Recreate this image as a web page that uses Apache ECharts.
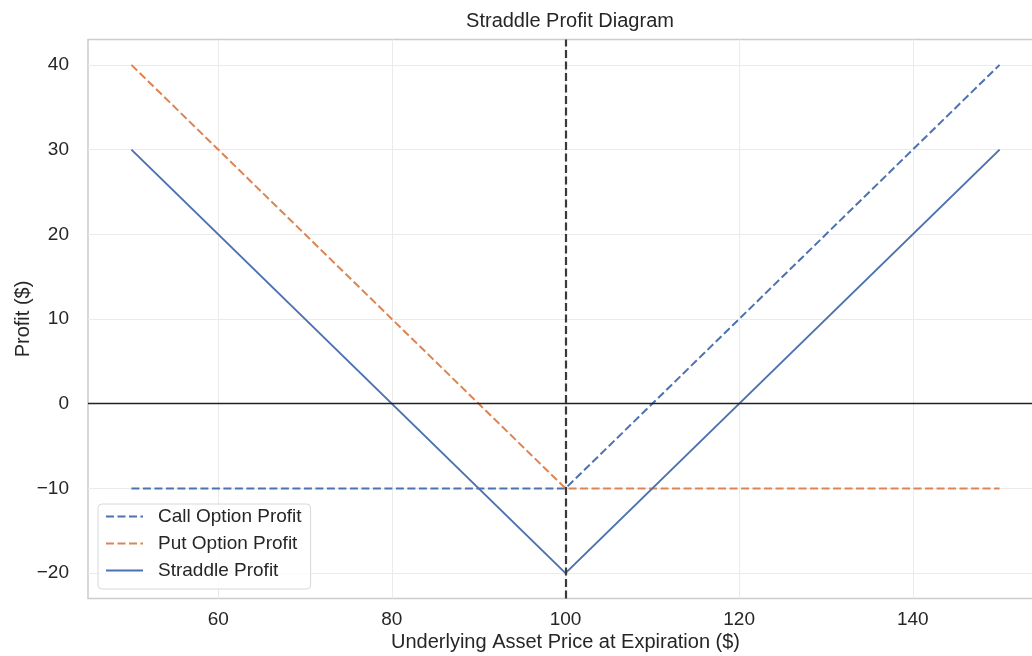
<!DOCTYPE html>
<html>
<head>
<meta charset="utf-8">
<script src="https://cdn.jsdelivr.net/npm/echarts@6/dist/echarts.min.js"></script>
<style>html,body{margin:0;padding:0;background:#fff}#c{width:1032px;height:656px}</style>
</head>
<body>
<div id="c"></div>
<script>
const prices = [50, 100, 150];
const callProfit = [-10, -10, 40];
const putProfit = [40, -10, -10];
const straddleProfit = [30, -20, 30];
const strike = 100;
const xTicks = [60, 80, 100, 120, 140];
const yTicks = [-20, -10, 0, 10, 20, 30, 40];

const FONT = '"Liberation Sans", Arial, sans-serif';
const BLUE = '#4C72B0', ORANGE = '#DD8452', TXT = '#262626';
const pair = arr => prices.map((x, i) => [x, arr[i]]);

const chart = echarts.init(document.getElementById('c'));
chart.setOption({
  animation: false,
  textStyle: {fontFamily: FONT},
  title: {text: 'Straddle Profit Diagram', left: 565, top: 6.5, textAlign: 'center',
    textStyle: {fontFamily: FONT, fontSize: 20, fontWeight: 'normal', color: TXT}},
  grid: {left: 88, width: 955, top: 39.5, bottom: 57.5, show: true, containLabel: false,
    outerBoundsMode: 'none',
    borderColor: '#cccccc', borderWidth: 1.5, backgroundColor: 'transparent'},
  xAxis: {type: 'value', min: 45, max: 155,
    name: 'Underlying Asset Price at Expiration ($)', nameLocation: 'middle', nameGap: 34,
    nameMoveOverlap: false,
    nameTextStyle: {fontFamily: FONT, fontSize: 20, color: TXT},
    axisLine: {show: false}, axisTick: {show: false, customValues: xTicks},
    axisLabel: {fontFamily: FONT, fontSize: 19, color: TXT, margin: 12, customValues: xTicks},
    splitLine: {show: true, lineStyle: {color: '#ebebeb', width: 1}}},
  yAxis: {type: 'value', min: -23, max: 43,
    name: 'Profit ($)', nameLocation: 'middle', nameGap: 55, nameRotate: 90,
    nameMoveOverlap: false,
    nameTextStyle: {fontFamily: FONT, fontSize: 20, color: TXT},
    axisLine: {show: false}, axisTick: {show: false, customValues: yTicks},
    axisLabel: {fontFamily: FONT, fontSize: 19, color: TXT, margin: 19, customValues: yTicks,
      formatter: v => (v < 0 ? '\u2212' + Math.abs(v) : String(v))},
    splitLine: {show: true, lineStyle: {color: '#ebebeb', width: 1}}},
  legend: {orient: 'vertical', left: 98, top: 504, padding: [3, 9, 9, 7], itemGap: 8,
    itemWidth: 37, itemHeight: 14, backgroundColor: 'rgba(255,255,255,0.8)',
    borderColor: '#d8d8d8', borderWidth: 1, borderRadius: 4,
    textStyle: {fontFamily: FONT, fontSize: 19, color: TXT, padding: [0, 0, 0, 10]},
    itemStyle: {opacity: 0},
    data: ['Call Option Profit', 'Put Option Profit', 'Straddle Profit']},
  series: [
    {name: 'Call Option Profit', type: 'line', data: pair(callProfit), symbol: 'none',
      lineStyle: {color: BLUE, width: 2, type: [8, 3.5]}, itemStyle: {color: BLUE}, z: 3},
    {name: 'Put Option Profit', type: 'line', data: pair(putProfit), symbol: 'none',
      lineStyle: {color: ORANGE, width: 2, type: [8, 3.5]}, itemStyle: {color: ORANGE}, z: 3},
    {name: 'Straddle Profit', type: 'line', data: pair(straddleProfit), symbol: 'none',
      lineStyle: {color: BLUE, width: 2, type: 'solid'}, itemStyle: {color: BLUE}, z: 3,
      markLine: {silent: true, symbol: 'none', label: {show: false},
        data: [
          {yAxis: 0, lineStyle: {color: '#222', width: 1.3, type: 'solid'}},
          {xAxis: strike, lineStyle: {color: '#3a3a3a', width: 2.2, type: [8, 3.5]}}
        ]}}
  ]
});
</script>
</body>
</html>
